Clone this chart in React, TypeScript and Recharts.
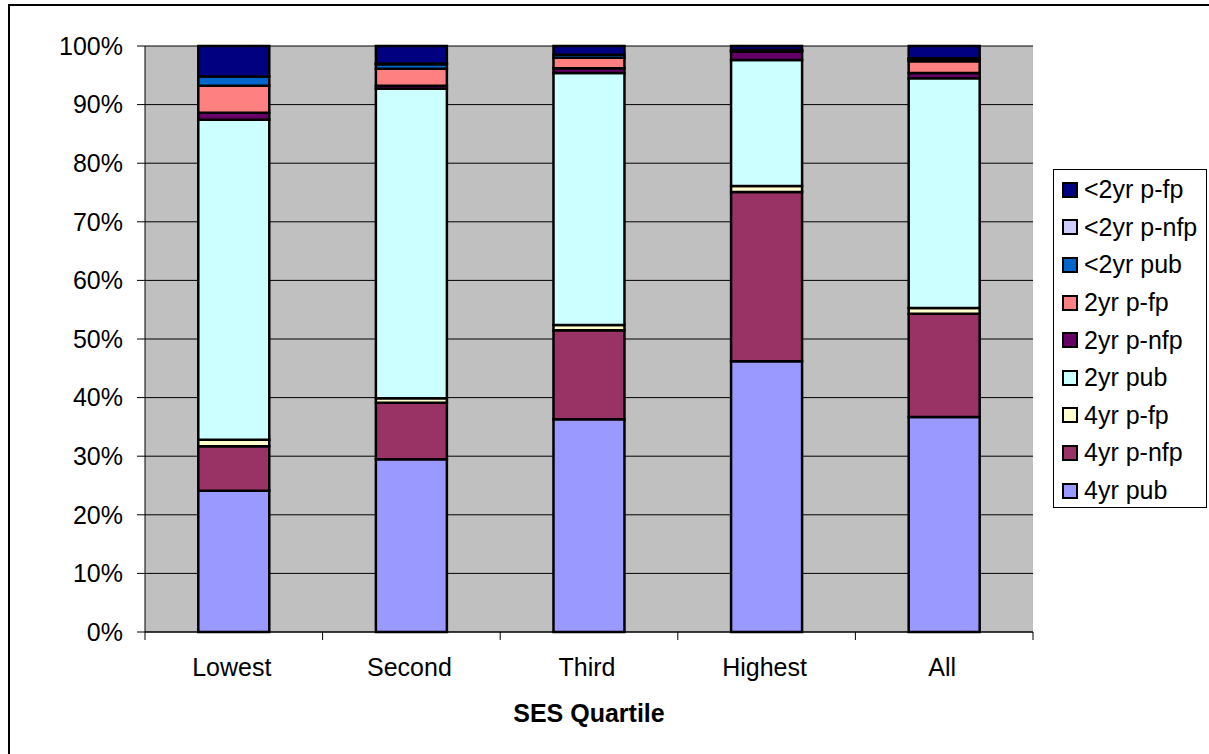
import React from 'react';
import {
  BarChart,
  Bar,
  XAxis,
  YAxis,
  CartesianGrid,
  Label,
} from 'recharts';

const categories = ['Lowest', 'Second', 'Third', 'Highest', 'All'];

// percent of students in each sector, bottom of stack first
const pub4 = [24.1, 29.5, 36.3, 46.2, 36.7];
const pnfp4 = [7.6, 9.6, 15.2, 28.9, 17.6];
const pfp4 = [1.1, 0.8, 0.9, 1.0, 1.0];
const pub2 = [54.6, 52.8, 43.0, 21.5, 39.2];
const pnfp2 = [1.2, 0.5, 0.8, 1.4, 0.9];
const pfp2 = [4.6, 2.9, 1.8, 0.2, 2.0];
const pubLt2 = [1.6, 0.8, 0.5, 0.1, 0.4];
const pnfpLt2 = [0, 0.1, 0, 0, 0.1];
const pfpLt2 = [5.2, 3.0, 1.5, 0.7, 2.1];

const yTicks = [0, 10, 20, 30, 40, 50, 60, 70, 80, 90, 100];

const series = [
  { key: 'pub4', name: '4yr pub', values: pub4, color: '#9999FF' },
  { key: 'pnfp4', name: '4yr p-nfp', values: pnfp4, color: '#993366' },
  { key: 'pfp4', name: '4yr p-fp', values: pfp4, color: '#FFFFCC' },
  { key: 'pub2', name: '2yr pub', values: pub2, color: '#CCFFFF' },
  { key: 'pnfp2', name: '2yr p-nfp', values: pnfp2, color: '#660066' },
  { key: 'pfp2', name: '2yr p-fp', values: pfp2, color: '#FF8080' },
  { key: 'pubLt2', name: '<2yr pub', values: pubLt2, color: '#0066CC' },
  { key: 'pnfpLt2', name: '<2yr p-nfp', values: pnfpLt2, color: '#CCCCFF' },
  { key: 'pfpLt2', name: '<2yr p-fp', values: pfpLt2, color: '#000080' },
];

const data = categories.map((cat, i) => {
  const row: Record<string, string | number> = { cat };
  series.forEach(s => {
    row[s.key] = s.values[i];
  });
  return row;
});

const FONT = '"Liberation Sans", Arial, sans-serif';

function CategoryTick(props: any) {
  const { x, y, payload, index, visibleTicksCount } = props;
  const half = payload.offset ?? 888 / 10;
  return (
    <g>
      <line x1={x - half} x2={x - half} y1={y} y2={y + 8} stroke="#000" />
      {index === visibleTicksCount - 1 && (
        <line x1={x + half} x2={x + half} y1={y} y2={y + 8} stroke="#000" />
      )}
      <text x={x - 2} y={y + 44} textAnchor="middle" fontSize={25} fill="#000" fontFamily={FONT}>
        {payload.value}
      </text>
    </g>
  );
}

function AxisTitle(props: any) {
  const { viewBox } = props;
  return (
    <text
      x={viewBox.x + viewBox.width / 2}
      y={viewBox.y + 90}
      textAnchor="middle"
      fontSize={25}
      fontWeight="bold"
      fill="#000"
      fontFamily={FONT}
    >
      SES Quartile
    </text>
  );
}

export default function App() {
  const legendItems = [...series].reverse();
  return (
    <div
      style={{
        position: 'fixed',
        left: 0,
        top: 0,
        width: 1209,
        height: 754,
        background: '#fff',
        overflow: 'hidden',
        fontFamily: FONT,
      }}
    >
      <div
        style={{
          position: 'absolute',
          left: 8,
          top: 4,
          width: 1220,
          height: 770,
          borderLeft: '2px solid #000',
          borderTop: '2px solid #000',
        }}
      />
      <BarChart
        width={1209}
        height={754}
        data={data}
        margin={{ top: 46, right: 176, bottom: 22, left: 65 }}
        barCategoryGap="30%"
        style={{ position: 'absolute', left: 0, top: 0 }}
      >
        <CartesianGrid vertical={false} stroke="#000" fill="#C0C0C0" strokeOpacity={1} />
        <XAxis
          dataKey="cat"
          height={100}
          tickSize={0}
          tickMargin={0}
          tickLine={false}
          axisLine={{ stroke: '#000', strokeWidth: 1 }}
          tick={<CategoryTick />}
          interval={0}
        >
          <Label content={<AxisTitle />} />
        </XAxis>
        <YAxis
          width={80}
          domain={[0, 100]}
          ticks={yTicks}
          interval={0}
          tickFormatter={(v: number) => `${v}%`}
          tickSize={8}
          tickMargin={14}
          tickLine={{ stroke: '#000' }}
          axisLine={{ stroke: '#000' }}
          tick={{ fontSize: 25, fill: '#000', fontFamily: FONT }}
        />
        {series.map(s => (
          <Bar
            key={s.key}
            dataKey={s.key}
            name={s.name}
            stackId="a"
            fill={s.color}
            stroke="#000"
            strokeWidth={2.5}
            isAnimationActive={false}
          />
        ))}
      </BarChart>
      <div
        style={{
          position: 'absolute',
          left: 1053,
          top: 169,
          width: 154,
          height: 339,
          boxSizing: 'border-box',
          border: '1px solid #000',
          background: '#fff',
          paddingTop: 1,
        }}
      >
        {legendItems.map(s => (
          <div
            key={s.key}
            style={{
              height: 37.6,
              display: 'flex',
              alignItems: 'center',
              paddingLeft: 8,
            }}
          >
            <span
              style={{
                width: 16,
                height: 16,
                boxSizing: 'border-box',
                border: '2px solid #000',
                background: s.color,
                marginRight: 6,
                flexShrink: 0,
              }}
            />
            <span style={{ fontSize: 25, color: '#000', whiteSpace: 'nowrap', lineHeight: 1 }}>
              {s.name}
            </span>
          </div>
        ))}
      </div>
    </div>
  );
}
